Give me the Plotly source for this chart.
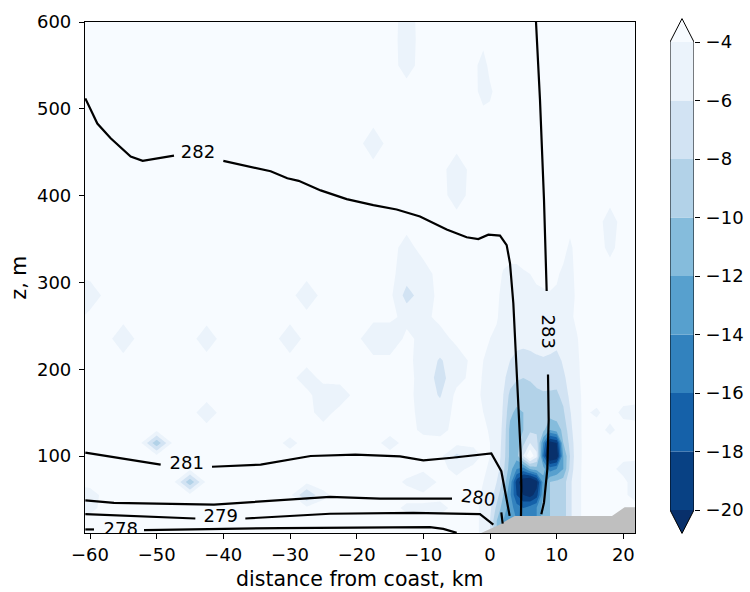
import numpy as np
import plotly.graph_objects as go

# ---------------- data ----------------
levels = [-20, -18, -16, -14, -12, -10, -8, -6, -4]
level_labels = ["\u221220", "\u221218", "\u221216", "\u221214", "\u221212", "\u221210", "\u22128", "\u22126", "\u22124"]
# under, 8 bands, over  (Blues_r sampled at band midpoints)
band_colors = ["#08306b", "#084184", "#1561a9", "#3282be", "#57a0ce",
               "#85bcdc", "#b2d2e8", "#d2e3f3", "#ebf3fb", "#f7fbff"]

x_ticks = [-60, -50, -40, -30, -20, -10, 0, 10, 20]
x_ticktext = ["\u221260", "\u221250", "\u221240", "\u221230", "\u221220", "\u221210", "0", "10", "20"]
z_ticks = [100, 200, 300, 400, 500, 600]

# grid nodes of the field
x_nodes = [-62.5, -60, -57.5, -55, -52.5, -50, -47.5, -45, -42.5, -40, -37.5, -35,
           -32.5, -30, -27.5, -25, -22.5, -20, -17.5, -15, -12.5, -10, -7.5, -5, -2.5,
           -1, 0, 1, 2, 3, 4, 5, 6, 7, 8, 9, 10, 11, 12, 13, 14, 16, 18, 20, 22.5]
z_nodes = [10, 25, 40, 55, 70, 85, 100, 115, 130, 150, 170, 190, 210, 235, 260, 285,
           310, 340, 370, 400, 430, 460, 490, 520, 550, 580, 610]
background = -3.5

# dense block of values near the coast (columns x=-1..14)
coast_x = [-1, 0, 1, 2, 3, 4, 5, 6, 7, 8, 9, 10, 11, 12, 13, 14]
coast_z = [10, 25, 40, 55, 70, 85, 100, 115, 130, 150, 170, 190, 210, 235, 260, 285, 310]
coast_vals = [
    [-4.4, -6.0, -10, -12, -13, -14, -15, -15, -14, -11, -10, -9.5, -9, -6.5, -4.4, -3.8],
    [-4.4, -6.0, -10, -12, -13, -14, -15, -15, -14, -11, -10, -9.5, -9, -6.5, -4.4, -3.8],
    [-4.4, -5.5, -8.5, -11, -13, -15, -16, -15, -14, -11, -10, -9.5, -9, -6.5, -4.4, -3.8],
    [-4.2, -5.0, -7.0, -10, -13.5, -18, -20, -21, -19, -12, -10, -9.5, -9, -6.5, -4.4, -3.8],
    [-4.0, -4.6, -6.0, -8.5, -12.5, -19, -22, -24, -21, -13, -10, -9.5, -9, -6.5, -4.4, -3.8],
    [-3.8, -4.2, -5.0, -7.5, -11, -14, -15, -12, -11, -11, -15, -14, -12, -7.5, -4.5, -3.8],
    [-3.7, -4.0, -4.6, -7.0, -10.5, -11, -6.0, -2.0, -5.5, -16, -23, -22, -12, -8, -4.6, -3.8],
    [-3.7, -4.0, -4.5, -6.8, -10.5, -11, -8.5, -6.0, -7.0, -14, -21, -20, -10, -7.5, -4.6, -3.8],
    [-3.8, -4.1, -4.6, -6.5, -10.5, -11, -10, -8.5, -8.5, -9.5, -12, -11, -9.5, -6.8, -4.5, -3.8],
    [-4.0, -4.2, -4.7, -6.2, -9.5, -10.5, -10, -9.5, -9.3, -9.0, -9.0, -9.0, -8.3, -6.2, -4.5, -3.8],
    [-4.2, -4.4, -4.8, -6.0, -8.5, -9.0, -9.0, -8.8, -8.5, -8.3, -8.3, -8.3, -7.5, -5.5, -4.4, -3.8],
    [-4.1, -4.2, -4.6, -5.5, -7.0, -7.8, -8.0, -7.8, -7.3, -7.0, -7.2, -7.4, -6.5, -5.0, -4.3, -3.7],
    [-4.0, -4.1, -4.4, -5.0, -6.0, -6.5, -6.6, -6.5, -6.3, -6.2, -6.4, -7.0, -5.6, -4.7, -4.2, -3.7],
    [-3.8, -4.0, -4.2, -4.6, -5.2, -5.4, -5.5, -5.4, -5.2, -5.0, -5.0, -4.9, -4.6, -4.4, -4.1, -3.6],
    [-3.6, -3.8, -3.9, -4.4, -4.8, -4.8, -4.7, -4.6, -4.5, -4.5, -4.4, -4.3, -4.3, -4.2, -3.8, -3.5],
    [-3.5, -3.6, -3.8, -4.3, -4.6, -4.5, -4.4, -4.3, -4.2, -4.2, -4.1, -4.2, -4.6, -4.5, -3.8, -3.5],
    [-3.5, -3.5, -3.6, -4.1, -4.3, -4.3, -4.1, -4.0, -3.8, -3.6, -3.6, -3.8, -4.3, -4.4, -3.7, -3.5],
]

# isolated patches elsewhere (node x, node z, value)
patch_x = [-50, -45, -27.5, -25, -10, -12.5, -5, -2.5, -5,
           -62.5, -60, -62.5, -60, -62.5, -60, -62.5,
           -55, -42.5, -30, -27.5, -17.5, -15,
           -27.5, -25, -22.5, -25, -42.5,
           -12.5, -10, -12.5, -12.5, -10, -10, -10, -7.5, -7.5, -7.5, -7.5, -5, -5,
           -10, -10, -10, -7.5, -7.5, -10, -12.5, -10,
           -12.5, -12.5, -12.5, -17.5, -5, -5, -1, -1, 0,
           18, 18, 12, 22.5, 22.5, 20, 22.5, 22.5, 20, 16, 18,
           -30, -15, -12.5, -10, -7.5]
patch_z = [115, 70, 55, 55, 70, 70, 100, 100, 85,
           55, 55, 40, 40, 285, 285, 260,
           235, 235, 235, 285, 235, 235,
           190, 170, 170, 150, 150,
           285, 285, 310, 260, 260, 235, 210, 210, 190, 170, 150, 210, 190,
           190, 170, 150, 235, 130, 130, 340, 310,
           580, 550, 610, 460, 430, 400, 550, 520, 520,
           370, 340, 340, 55, 70, 85, 85, 150, 150, 150, 130,
           115, 115, 40, 40, 40]
patch_v = [-9.5, -9.5, -8, -4.3, -6, -4.2, -6.5, -5, -4.5,
           -5.5, -4.6, -5, -4.4, -7, -5, -4.6,
           -5, -4.8, -5, -5, -5.5, -5.5,
           -4.8, -5, -4.8, -4.6, -4.8,
           -6.8, -5, -5, -4.6, -4.5, -4.6, -4.8, -6.2, -6.8, -6.2, -5, -5, -4.6,
           -4.6, -4.7, -4.5, -4.8, -4.5, -4.3, -4.5, -4.6,
           -4.6, -4.5, -4.5, -4.8, -4.8, -4.6, -4.7, -4.6, -4.3,
           -4.6, -4.3, -4.3, -5.5, -5.5, -4.6, -5, -4.5, -4.3, -4.2, -4.3,
           -4.4, -4.6, -4.3, -4.3, -4.5]

# isotherms (None = gap for the inline label)
iso_278_x = [-60.7, -59.4, None, -51.9, -31.4, -9.0, -7.0, -5.0]
iso_278_z = [15.4, 15.4, None, 14.6, 17, 18, 16, 11.5]
iso_279_x = [-60.7, -44.2, None, -36.7, -24.0, -11.5, -1.5, 0.5]
iso_279_z = [33, 28, None, 28, 33.5, 34.6, 33, 21]
iso_280_x = [-60.7, -56.4, -41.4, -31.4, -24.0, -16.5, -5.7, None, 1.7, 1.9]
iso_280_z = [49, 46, 44, 49, 53, 51, 51, None, 35, 22]
iso_281_x = [-60.7, -56.9, -52.9, -49.4, None, -41.7, -34.4, -26.9, -20.2, -13.5,
             -10.0, -5.7, 0.2, 1.7, 2.45, 2.95]
iso_281_z = [104, 99, 94, 90, None, 87.6, 90, 100, 101.7, 99.5, 95, 98, 103, 82.5, 54, 31]
iso_282_x = [-60.7, -58.9, -56.9, -53.9, -52.1, -49.4, -47.4, None, -40.0, -36.4, -32.9,
             -30.4, -28.7, -25.4, -21.5, -17.5, -14.0, -10.5, -6.5, -3.5, -1.75, -0.25,
             1.5, 2.5, 3.0, 3.5, 3.9, 4.3, 4.6, 4.7, 4.65]
iso_282_z = [512, 483, 466, 445, 440, 443, 446, None, 440, 434, 428, 420, 417, 406, 396,
             389, 384, 376, 361, 352, 350, 355, 354, 343, 322, 276, 215, 139, 104, 65, 31]
iso_283_x = [6.9, 7.5, 8.1, 8.5, None, 8.7, 8.8, 8.6, 8.1, 7.7]
iso_283_z = [600, 510, 395, 290, None, 194, 142, 84.5, 46.5, 33]

label_text = ["278", "279", "280", "281", "282", "283"]
label_x = [-55.4, -40.4, -1.75, -45.5, -43.8, 8.75]
label_z = [14.0, 29.5, 52.7, 90.0, 448.0, 243.0]
label_angle = [0, 0, 8, 0, 0, 90]

terrain_x = [-2.0, 1.5, 2.8, 3.7, 18.3, 20.2, 22.5]
terrain_z = [9, 21, 27, 31, 31, 41, 41]

# ---------------- build field ----------------
Z = np.full((len(z_nodes), len(x_nodes)), background, dtype=float)
xi = {float(v): i for i, v in enumerate(x_nodes)}
zi = {float(v): j for j, v in enumerate(z_nodes)}
for r, zz in enumerate(coast_z):
    for c, xx in enumerate(coast_x):
        Z[zi[float(zz)], xi[float(xx)]] = coast_vals[r][c]
for xx, zz, vv in zip(patch_x, patch_z, patch_v):
    Z[zi[float(zz)], xi[float(xx)]] = vv

# ---------------- layout geometry ----------------
W, H = 750, 592
ML, MR, MT, MB = 85, 30, 10, 50
pw = W - ML - MR
ph = H - MT - MB
ax_left, ax_right, ax_top, ax_bot = 85, 635, 22, 533
cb_left, cb_right = 670, 694
cb_top_px, cb_bot_px = 42, 510      # pixel rows of -4 and -20

x_dom = [(ax_left - ML) / pw, (ax_right - ML) / pw]
y_dom = [(H - MB - ax_bot) / ph, (H - MB - ax_top) / ph]
cbx_dom = [(cb_left - ML) / pw, (cb_right - ML) / pw]
ppu = (cb_bot_px - cb_top_px) / (levels[-1] - levels[0])
y2_top = levels[-1] + (cb_top_px - MT) / ppu
y2_bot = levels[0] - (H - MB - cb_bot_px) / ppu

n = len(band_colors)
colorscale = [[k / (n - 1), c] for k, c in enumerate(band_colors)]

FONT = "DejaVu Sans"
FS = 18
FS_LAB = 20.5

fig = go.Figure()

fig.add_trace(go.Contour(
    x=x_nodes, y=z_nodes, z=Z,
    autocontour=False,
    contours=dict(start=levels[0], end=levels[-1], size=levels[1] - levels[0],
                  coloring="fill", showlines=False),
    colorscale=colorscale, showscale=False, line=dict(width=0, smoothing=0),
    hoverinfo="skip",
))

fig.add_trace(go.Scatter(
    x=terrain_x, y=terrain_z, mode="lines", fill="tozeroy",
    fillcolor="#bfbfbf", line=dict(width=0, color="#bfbfbf"), hoverinfo="skip",
))

for xs, zs in [(iso_278_x, iso_278_z), (iso_279_x, iso_279_z), (iso_280_x, iso_280_z),
               (iso_281_x, iso_281_z), (iso_282_x, iso_282_z), (iso_283_x, iso_283_z)]:
    fig.add_trace(go.Scatter(x=xs, y=zs, mode="lines", connectgaps=False,
                             line=dict(color="black", width=2.2), hoverinfo="skip"))

flat = [i for i, a in enumerate(label_angle) if a == 0]
fig.add_trace(go.Scatter(
    x=[label_x[i] for i in flat], y=[label_z[i] for i in flat],
    text=[label_text[i] for i in flat], mode="text", cliponaxis=True,
    textfont=dict(family=FONT, size=FS, color="black"), hoverinfo="skip",
))
for i, a in enumerate(label_angle):
    if a != 0:
        fig.add_annotation(x=label_x[i], y=label_z[i], xref="x", yref="y",
                           text=label_text[i], textangle=a, showarrow=False,
                           font=dict(family=FONT, size=FS, color="black"))

# ---------------- colorbar ----------------
fig.add_trace(go.Bar(
    x=[0.5] * (len(levels) - 1),
    y=[levels[k + 1] - levels[k] for k in range(len(levels) - 1)],
    base=levels[:-1], width=1,
    marker=dict(color=band_colors[1:-1], line=dict(width=0)),
    xaxis="x2", yaxis="y2", hoverinfo="skip",
))
ext = 0.05 * (levels[-1] - levels[0])
fig.add_trace(go.Scatter(
    x=[0, 0.5, 1, 0], y=[levels[-1], levels[-1] + ext, levels[-1], levels[-1]],
    fill="toself", fillcolor=band_colors[-1], mode="lines", line=dict(width=0),
    xaxis="x2", yaxis="y2", hoverinfo="skip",
))
fig.add_trace(go.Scatter(
    x=[0, 0.5, 1, 0], y=[levels[0], levels[0] - ext, levels[0], levels[0]],
    fill="toself", fillcolor=band_colors[0], mode="lines", line=dict(width=0),
    xaxis="x2", yaxis="y2", hoverinfo="skip",
))
fig.add_trace(go.Scatter(
    x=[0, 0, 0.5, 1, 1, 0.5, 0],
    y=[levels[0], levels[-1], levels[-1] + ext, levels[-1], levels[0], levels[0] - ext, levels[0]],
    mode="lines", line=dict(color="black", width=1),
    xaxis="x2", yaxis="y2", hoverinfo="skip",
))

axis_common = dict(showgrid=False, zeroline=False, ticks="outside", ticklen=5,
                   tickwidth=1.2, tickcolor="black", automargin=False,
                   tickfont=dict(family=FONT, size=FS, color="black"))

fig.update_layout(
    width=W, height=H,
    margin=dict(l=ML, r=MR, t=MT, b=MB, pad=0, autoexpand=False),
    paper_bgcolor="white", plot_bgcolor="white",
    showlegend=False, barmode="overlay",
    font=dict(family=FONT, size=FS, color="black"),
    xaxis=dict(domain=x_dom, range=[-60.75, 21.75], tickvals=x_ticks, ticktext=x_ticktext,
               showline=True, mirror=True, linecolor="black", linewidth=1.2,
               anchor="y", **axis_common),
    yaxis=dict(domain=y_dom, range=[11.3, 600], tickvals=z_ticks,
               showline=True, mirror=True, linecolor="black", linewidth=1.2,
               anchor="x", ticklabelstandoff=4, **axis_common),
    xaxis2=dict(domain=cbx_dom, range=[0, 1], visible=False, anchor="y2",
                fixedrange=True),
    yaxis2=dict(domain=[0, 1], range=[y2_bot, y2_top], anchor="x2", side="right",
                tickvals=levels, ticktext=level_labels, showline=False,
                ticklabelstandoff=2, **axis_common),
)

fig.add_annotation(text="distance from coast, km", xref="paper", yref="paper",
                   x=((ax_left + ax_right) / 2 - ML) / pw, y=(H - MB - 579) / ph,
                   showarrow=False, xanchor="center", yanchor="middle",
                   font=dict(family=FONT, size=FS_LAB, color="black"))
fig.add_annotation(text="z, m", xref="paper", yref="paper",
                   x=(18 - ML) / pw, y=(H - MB - (ax_top + ax_bot) / 2) / ph,
                   textangle=-90, showarrow=False, xanchor="center", yanchor="middle",
                   font=dict(family=FONT, size=FS_LAB, color="black"))

fig.write_html("out.html")
